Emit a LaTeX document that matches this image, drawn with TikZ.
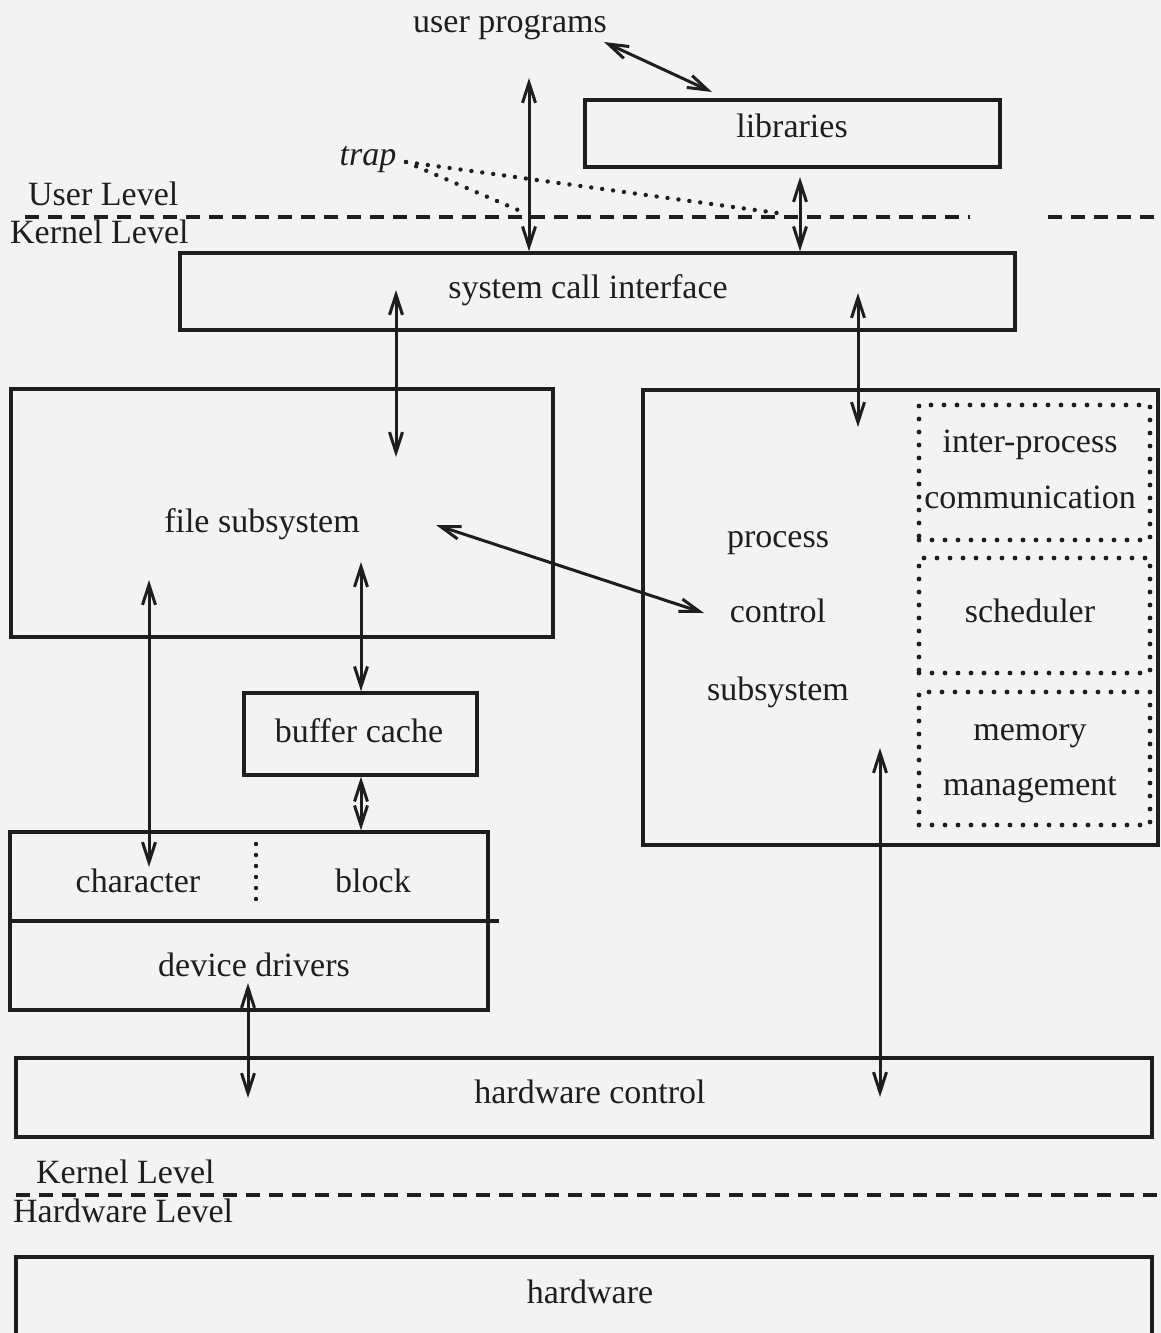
\documentclass[tikz,border=0pt]{standalone}
\usepackage{fontspec}
\setmainfont{Liberation Serif}
\usetikzlibrary{arrows.meta,calc}
\definecolor{ink}{RGB}{30,30,30}
\definecolor{paper}{RGB}{243,243,243}
\begin{document}
\begin{tikzpicture}[x=1pt,y=-1pt,
  box/.style={draw=ink,line width=3.4pt,inner sep=0pt},
  dotbox/.style={draw=ink,line width=4.8pt,dash pattern=on 0pt off 13pt,line cap=round,inner sep=0pt},
  txt/.style={anchor=base,text=ink,inner sep=0pt,font=\fontsize{34}{40}\selectfont},
  lvl/.style={txt,anchor=base west},
  arr/.style={draw=ink,line width=3pt,{Straight Barb[length=20pt,width=13pt]}-{Straight Barb[length=20pt,width=13pt]}},
  dash line/.style={draw=ink,line width=3.4pt,dash pattern=on 14pt off 9pt},
  dotline/.style={draw=ink,line width=4.4pt,dash pattern=on 0pt off 11pt,line cap=round}]
\fill[paper] (0,0) rectangle (1161,1333);
\useasboundingbox (0,0) rectangle (1161,1333);
\clip (0,0) rectangle (1161,1333);

% boxes
\node[box,minimum width=415pt,minimum height=67pt] (lib) at (792.5,133.5) {};
\node[box,minimum width=835pt,minimum height=77pt] (sci) at (597.5,291.5) {};
\node[box,minimum width=542pt,minimum height=248pt] (fs) at (282,513) {};
\node[box,minimum width=515pt,minimum height=455pt] (pcs) at (900.5,617.5) {};
\node[dotbox,minimum width=231pt,minimum height=135pt] (ipc) at (1034.5,472.5) {};
\node[dotbox,minimum width=231pt,minimum height=115pt] (sch) at (1034.5,615.5) {};
\node[dotbox,minimum width=231pt,minimum height=133pt] (mem) at (1034.5,758.5) {};
\node[box,minimum width=233pt,minimum height=82pt] (bc) at (360.5,734) {};
\node[box,minimum width=478pt,minimum height=178pt] (dd) at (249,921) {};
\node[box,minimum width=1136pt,minimum height=79pt] (hwc) at (584,1097.5) {};
\node[box,minimum width=1136pt,minimum height=90pt] (hw) at (584,1302) {};

% inner divisions of device drivers
\draw[ink,line width=3.4pt] (dd.west) -- ($(dd.east)+(9,0)$);
\draw[dotline] (256,844) -- (256,910);

% texts
\node[txt] (up) at (510,32) {user programs};
\node[txt] (libt) at (792,137) {libraries};
\node[txt,font=\fontsize{34}{40}\selectfont\itshape] (trap) at (368,165) {trap};
\node[lvl] (ul) at (28,205) {User Level};
\node[lvl] (kl) at (10,243) {Kernel Level};
\node[txt] (scit) at (588,298) {system call interface};
\node[txt] (fst) at (262,532) {file subsystem};
\node[txt] (p1) at (778,547) {process};
\node[txt] (p2) at (778,622) {control};
\node[txt] (p3) at (778,700) {subsystem};
\node[txt] (ipc1) at (1030,452) {inter-process};
\node[txt] (ipc2) at (1030,508) {communication};
\node[txt] (scht) at (1030,622) {scheduler};
\node[txt] (mem1) at (1030,740) {memory};
\node[txt] (mem2) at (1030,795) {management};
\node[txt] (bct) at (359,742) {buffer cache};
\node[txt] (chr) at (138,892) {character};
\node[txt] (blk) at (373,892) {block};
\node[txt] (ddt) at (254,976) {device drivers};
\node[txt] (hwct) at (590,1103) {hardware control};
\node[lvl] (kl2) at (36,1183) {Kernel Level};
\node[lvl] (hl) at (13,1222) {Hardware Level};
\node[txt] (hwt) at (590,1303) {hardware};

% level lines
\draw[dash line] (25,217) -- (970,217);
\draw[dash line] (1048,217) -- (1161,217);
\draw[dash line] (16,1195) -- (1161,1195);

% trap dotted lines
\coordinate (tp) at (406,162);
\coordinate (tp1) at (777,213);
\coordinate (tp2) at (518,210);
\draw[dotline] (tp) -- (tp1);
\draw[dotline] (tp) -- (tp2);

% connector end points
\coordinate (a1) at (604,42);
\coordinate (a2) at (712,92);
\coordinate (b1) at (529,78);
\coordinate (c1) at (800,177);
\coordinate (d1) at (396,290);
\coordinate (d2) at (396,457);
\coordinate (e1) at (858,293);
\coordinate (e2) at (858,427);
\coordinate (f1) at (436,525);
\coordinate (f2) at (704,613);
\coordinate (g1) at (361,562);
\coordinate (h1) at (149,580);
\coordinate (h2) at (149,867);
\coordinate (k1) at (248,983);
\coordinate (k2) at (248,1098);
\coordinate (m1) at (880,748);
\coordinate (m2) at (880,1097);

% connectors
\draw[arr] (a1) -- (a2);
\draw[arr] (b1) -- (b1 |- sci.north);
\draw[arr] (c1) -- (c1 |- sci.north);
\draw[arr] (d1) -- (d2);
\draw[arr] (e1) -- (e2);
\draw[arr] (f1) -- (f2);
\draw[arr] (g1) -- (g1 |- bc.north);
\draw[arr] (h1) -- (h2);
\draw[arr] (g1 |- bc.south) -- (g1 |- dd.north);
\draw[arr] (k1) -- (k2);
\draw[arr] (m1) -- (m2);
\end{tikzpicture}
\end{document}
